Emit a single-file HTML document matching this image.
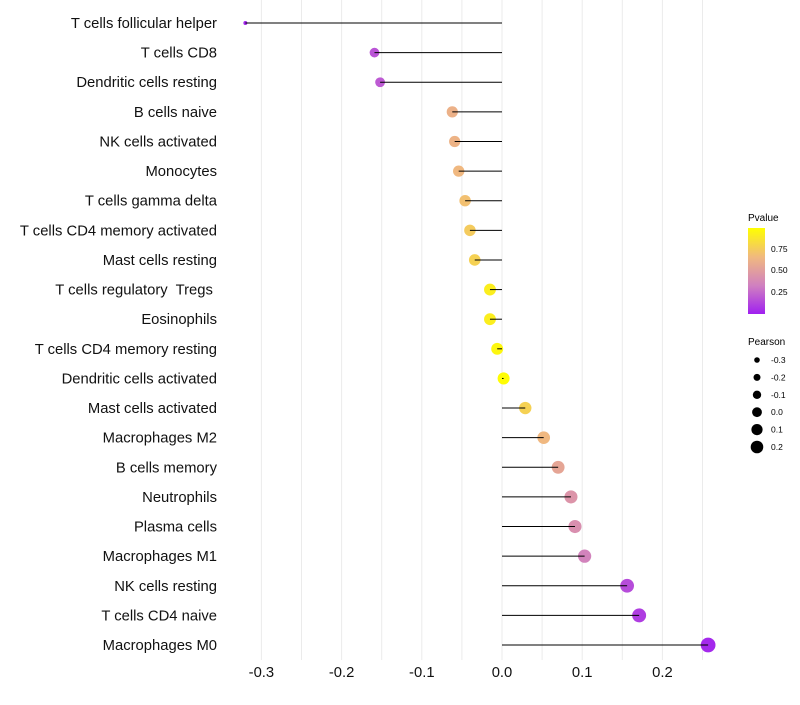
<!DOCTYPE html>
<html><head><meta charset="utf-8"><style>
body{margin:0;background:#fff;font-family:"Liberation Sans",sans-serif}
text{white-space:pre}
</style></head><body>
<svg id="chart" width="800" height="700" xmlns="http://www.w3.org/2000/svg">
<defs><linearGradient id="pg" x1="0" y1="1" x2="0" y2="0">
<stop offset="0" stop-color="#A020F0"/><stop offset="0.33" stop-color="#D080C0"/><stop offset="0.66" stop-color="#F0B880"/><stop offset="1" stop-color="#FFFF00"/></linearGradient></defs>
<g id="grid"></g><g id="marks"></g><g id="labels"></g>
<g font-size="10" fill="#000">
<text x="748" y="221">Pvalue</text>
<rect x="748" y="228" width="17" height="86" fill="url(#pg)"/>
<text x="771" y="252" font-size="8.5">0.75</text>
<text x="771" y="273" font-size="8.5">0.50</text>
<text x="771" y="295" font-size="8.5">0.25</text>
<text x="748" y="345">Pearson</text>
<g id="sizeLegend"></g>
</g>
</svg>
<script>
const categories=["T cells follicular helper","T cells CD8","Dendritic cells resting","B cells naive","NK cells activated","Monocytes","T cells gamma delta","T cells CD4 memory activated","Mast cells resting","T cells regulatory  Tregs ","Eosinophils","T cells CD4 memory resting","Dendritic cells activated","Mast cells activated","Macrophages M2","B cells memory","Neutrophils","Plasma cells","Macrophages M1","NK cells resting","T cells CD4 naive","Macrophages M0"];
const pearson=[-0.320,-0.159,-0.152,-0.062,-0.059,-0.054,-0.046,-0.040,-0.034,-0.015,-0.015,-0.006,0.002,0.029,0.052,0.070,0.086,0.091,0.103,0.156,0.171,0.257];
const pvalue=[0.02,0.18,0.2,0.62,0.63,0.66,0.7,0.75,0.78,0.92,0.92,0.96,0.99,0.78,0.66,0.55,0.45,0.42,0.35,0.15,0.1,0.03];
const xTicks=[-0.3,-0.2,-0.1,0.0,0.1,0.2];
const sizeLegendVals=[-0.3,-0.2,-0.1,0.0,0.1,0.2];
const NS="http://www.w3.org/2000/svg";
const X=v=>502+v*802;
const Y=i=>23+i*29.62;
const R=v=>2+5.4*Math.sqrt(Math.max(0,(v+0.32)/0.58));
const RL=v=>2.8+(v+0.3)*7;
function lerp(a,b,t){return a.map((c,i)=>Math.round(c+(b[i]-c)*t));}
const stops=[[0,[160,32,240]],[0.33,[208,128,192]],[0.66,[240,184,128]],[1,[255,255,0]]];
function col(p){for(let i=0;i<stops.length-1;i++){if(p<=stops[i+1][0]){const t=(p-stops[i][0])/(stops[i+1][0]-stops[i][0]);return "rgb("+lerp(stops[i][1],stops[i+1][1],t).join(",")+")";}}return "rgb(255,255,0)";}
function mk(tag,attrs,parent){const e=document.createElementNS(NS,tag);for(const k in attrs)e.setAttribute(k,attrs[k]);parent.appendChild(e);return e;}
const grid=document.getElementById('grid'),marks=document.getElementById('marks'),labels=document.getElementById('labels');
for(let v=-0.3;v<=0.251;v+=0.05){const l=mk('line',{x1:X(v),x2:X(v),y1:0,y2:660,stroke:'#ebebeb','stroke-width':1},grid);

}
xTicks.forEach(t=>{const tx=mk('text',{x:X(t),y:677,'text-anchor':'middle','font-size':14.8,fill:'#111'},labels);tx.textContent=t.toFixed(1);

});
categories.forEach((c,i)=>{
const tx=mk('text',{x:217,y:Y(i)+5,'text-anchor':'end','font-size':14.8,fill:'#111'},labels);tx.textContent=c;


const pt=mk('circle',{cx:X(pearson[i]),cy:Y(i),r:R(pearson[i]),fill:col(pvalue[i])},marks);


const ln=mk('line',{x1:X(0),x2:X(pearson[i]),y1:Y(i),y2:Y(i),stroke:'#000','stroke-width':1},marks);


});
const sl=document.getElementById('sizeLegend');
sizeLegendVals.forEach((v,i)=>{const y=360+i*17.4;
const c=mk('circle',{cx:757,cy:y,r:RL(v),fill:'#000'},sl);


const t=mk('text',{x:771,y:y+3,'font-size':8.5},sl);t.textContent=v.toFixed(1);

});
</script>
</body></html>
